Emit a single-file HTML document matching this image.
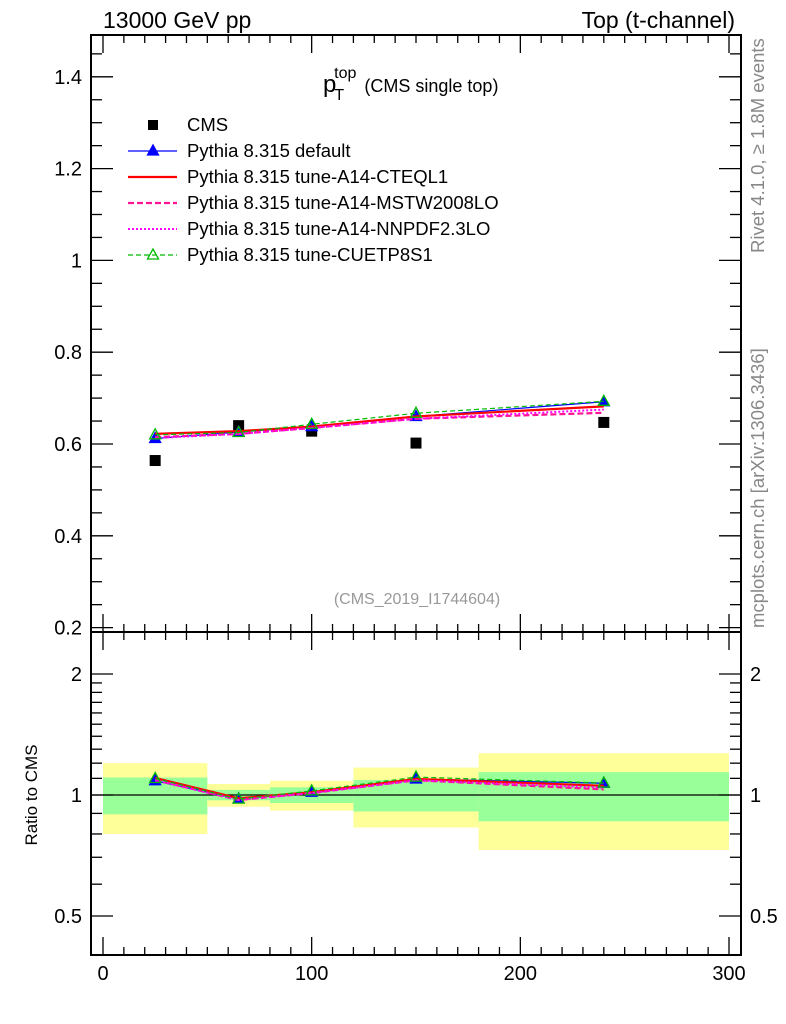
<!DOCTYPE html>
<html><head><meta charset="utf-8"><style>
html,body{margin:0;padding:0;background:#fff}
svg{display:block;font-family:"Liberation Sans",sans-serif}
</style></head><body>
<svg id="chart" width="786" height="1024" viewBox="0 0 786 1024" xmlns="http://www.w3.org/2000/svg">
<rect x="0" y="0" width="786" height="1024" fill="#fff"/>
<g id="bands"></g>
<g id="marks"></g>
<g id="axes"></g>
<text x="103" y="28" font-size="23">13000 GeV pp</text>
<text x="735" y="28" font-size="23" text-anchor="end">Top (t-channel)</text>
<text x="323" y="92" font-size="24">p<tspan font-size="16" dy="8" dx="-2">T</tspan><tspan font-size="16" dy="-22" dx="-10">top</tspan><tspan font-size="18" dy="14" dx="8">(CMS single top)</tspan></text>
<text x="417" y="604" font-size="16" fill="#999" text-anchor="middle">(CMS_2019_I1744604)</text>
<text transform="translate(764,253) rotate(-90)" font-size="18.5" fill="#888">Rivet 4.1.0, ≥ 1.8M events</text>
<text transform="translate(764,628) rotate(-90)" font-size="18.5" fill="#888">mcplots.cern.ch [arXiv:1306.3436]</text>
<text transform="translate(37,795) rotate(-90)" font-size="17" text-anchor="middle">Ratio to CMS</text>
<g id="legend"></g>
</svg>
<script>
const binEdges=[0,50,80,120,180,300];
const xCenters=[25,65,100,150,240];
const cms=[0.564,0.640,0.628,0.602,0.647];
const statErr=[0.105,0.03,0.045,0.09,0.14];
const totErr=[0.2,0.065,0.085,0.17,0.27];
const sDefault=[0.612,0.626,0.638,0.660,0.692];
const sCteq=[0.622,0.628,0.638,0.660,0.682];
const sMstw=[0.615,0.622,0.635,0.655,0.668];
const sNnpdf=[0.613,0.622,0.635,0.655,0.675];
const sCuetp=[0.620,0.625,0.643,0.667,0.693];
const mainTicks=[0.2,0.4,0.6,0.8,1,1.2,1.4];
const ratioTicks=[0.5,1,2];
const xTicks=[0,100,200,300];

const NS="http://www.w3.org/2000/svg";
const L=91,R=741,T=35,M=632,B=955;
const X=v=>103+(v/300)*626;
const Y=v=>444-(v-0.6)*459;
const YR=v=>795-174.6*Math.log(v);
function mk(tag,attrs,parent){const e=document.createElementNS(NS,tag);for(const k in attrs)e.setAttribute(k,attrs[k]);parent.appendChild(e);return e;}
const bands=document.getElementById('bands'),marks=document.getElementById('marks'),axes=document.getElementById('axes'),legend=document.getElementById('legend');

for(let i=0;i<cms.length;i++){
  const x0=X(binEdges[i]),x1=X(binEdges[i+1]);
  const y=mk('rect',{x:x0,y:YR(1+totErr[i]),width:x1-x0,height:YR(1-totErr[i])-YR(1+totErr[i]),fill:'#ffff99'},bands);
  
  
  const g=mk('rect',{x:x0,y:YR(1+statErr[i]),width:x1-x0,height:YR(1-statErr[i])-YR(1+statErr[i]),fill:'#99ff99'},bands);
  
  
}
const one=mk('line',{x1:L,x2:R,y1:YR(1),y2:YR(1),stroke:'#000','stroke-width':1.3},bands);



const series=[
 {d:sDefault,c:'#0000ff',w:1.2,dash:'',m:'tri-fill',n:'Pythia 8.315 default',id:'series-default'},
 {d:sCteq,c:'#ff0000',w:2.2,dash:'',m:'',n:'Pythia 8.315 tune-A14-CTEQL1',id:'series-cteql1'},
 {d:sMstw,c:'#ff1493',w:2.2,dash:'6,3',m:'',n:'Pythia 8.315 tune-A14-MSTW2008LO',id:'series-mstw2008lo'},
 {d:sNnpdf,c:'#ff00ff',w:2,dash:'2,2',m:'',n:'Pythia 8.315 tune-A14-NNPDF2.3LO',id:'series-nnpdf23lo'},
 {d:sCuetp,c:'#00bb00',w:1.2,dash:'5,3',m:'tri-open',n:'Pythia 8.315 tune-CUETP8S1',id:'series-cuetp8s1'}
];
function tri(x,y,s,fill,parent){
  const t=mk('polygon',{points:`${x},${y-6} ${x-5.5},${y+4} ${x+5.5},${y+4}`,fill:fill==='open'?'none':s,stroke:s,'stroke-width':1.3},parent);
  
  
}
cms.forEach((v,i)=>{
  const r=mk('rect',{x:X(xCenters[i])-5.5,y:Y(v)-5.5,width:11,height:11,fill:'#000'},marks);
  
  
});
series.forEach(s=>{
  const pm=s.d.map((v,i)=>X(xCenters[i])+','+Y(v)).join(' ');
  const pl=mk('polyline',{points:pm,fill:'none',stroke:s.c,'stroke-width':s.w,'stroke-dasharray':s.dash},marks);
  
  
  const pr=s.d.map((v,i)=>X(xCenters[i])+','+YR(v/cms[i])).join(' ');
  const rl=mk('polyline',{points:pr,fill:'none',stroke:s.c,'stroke-width':s.w,'stroke-dasharray':s.dash},marks);
  
  
  if(s.m){s.d.forEach((v,i)=>{tri(X(xCenters[i]),Y(v),s.c,s.m==='tri-open'?'open':'fill',marks);tri(X(xCenters[i]),YR(v/cms[i]),s.c,s.m==='tri-open'?'open':'fill',marks);});}
});

[[T,M],[M,B]].forEach(([t,b],k)=>{
  const f=mk('rect',{x:L,y:t,width:R-L,height:b-t,fill:'none',stroke:'#000','stroke-width':2},axes);
  
  
});
for(let v=0;v<=300;v+=10){
  const maj=v%100===0,len=maj?18:8,x=X(v);
  [[T,1],[M,-1],[M,1],[B,-1]].forEach(([y0,dir])=>{
    const t=mk('line',{x1:x,x2:x,y1:y0,y2:y0+dir*len,stroke:'#000','stroke-width':1.3},axes);
    
    
  });
}
xTicks.forEach(v=>{
  const t=mk('text',{x:X(v),y:980,'font-size':20,'text-anchor':'middle'},axes);t.textContent=v;
  
  
});
for(let v=0.2;v<=1.46;v+=0.05){
  const maj=Math.abs(v*10-Math.round(v*10))<0.01&&Math.round(v*10)%2===0,len=maj?22:11,y=Y(v);
  [[L,1],[R,-1]].forEach(([x0,dir])=>{
    const t=mk('line',{x1:x0,x2:x0+dir*len,y1:y,y2:y,stroke:'#000','stroke-width':1.3},axes);
    
    
  });
}
mainTicks.forEach(v=>{
  const t=mk('text',{x:82,y:Y(v)+7,'font-size':20,'text-anchor':'end'},axes);t.textContent=String(v);
  
  
});
[0.4,0.5,0.6,0.7,0.8,0.9,1,2,1.5,1.2,1.4,1.6,1.8,1.1,1.3,1.7,1.9].forEach(v=>{
  const maj=ratioTicks.includes(v),len=maj?22:11,y=YR(v);
  if(y<M||y>B)return;
  [[L,1],[R,-1]].forEach(([x0,dir])=>{
    const t=mk('line',{x1:x0,x2:x0+dir*len,y1:y,y2:y,stroke:'#000','stroke-width':1.3},axes);
    
    
  });
});
ratioTicks.forEach(v=>{
  [[82,'end'],[750,'start']].forEach(([x,a])=>{
    const t=mk('text',{x:x,y:YR(v)+7,'font-size':20,'text-anchor':a},axes);t.textContent=String(v);
    
    
  });
});

const rows=[{n:'CMS'}].concat(series);
rows.forEach((s,i)=>{
  const y=125+i*26;
  if(i===0){
    const r=mk('rect',{x:148,y:y-5,width:10,height:10,fill:'#000'},legend);
    
    
  } else {
    const l=mk('line',{x1:128,x2:177,y1:y,y2:y,stroke:s.c,'stroke-width':s.w,'stroke-dasharray':s.dash},legend);
    
    
    if(s.m)tri(153,y,s.c,s.m==='tri-open'?'open':'fill',legend);
  }
  const t=mk('text',{x:187,y:y+6,'font-size':18.5},legend);t.textContent=s.n;
  
  
});
</script>
</body></html>
